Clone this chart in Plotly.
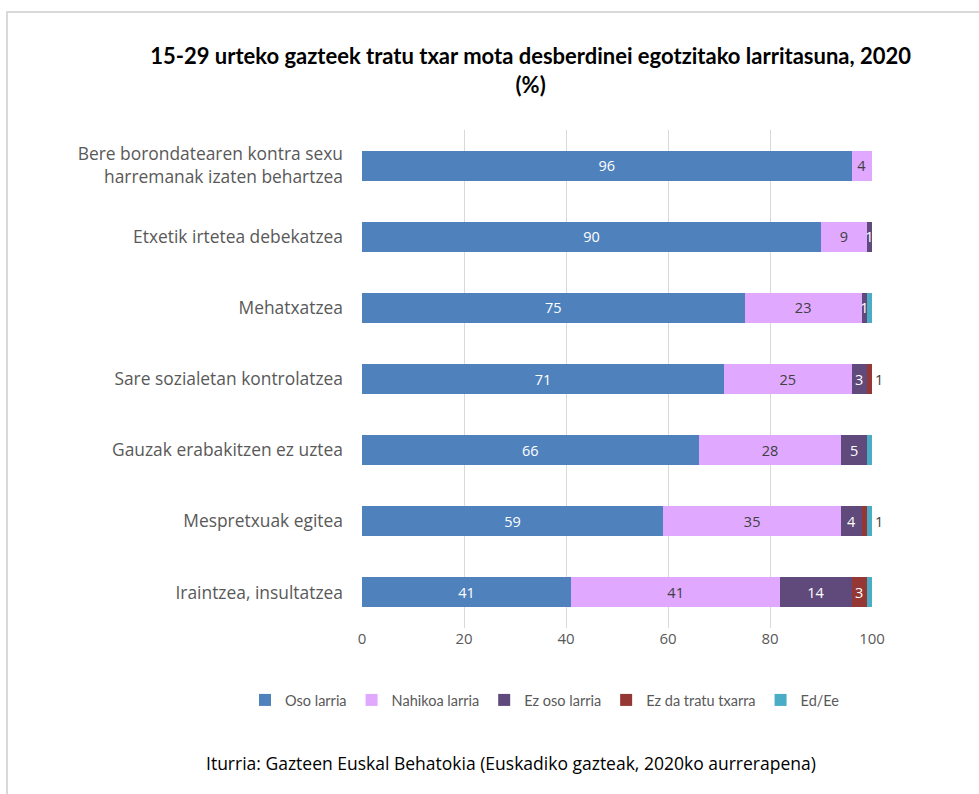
import plotly.graph_objects as go

categories = [
    "Bere borondatearen kontra sexu<br>harremanak izaten behartzea",
    "Etxetik irtetea debekatzea",
    "Mehatxatzea",
    "Sare sozialetan kontrolatzea",
    "Gauzak erabakitzen ez uztea",
    "Mespretxuak egitea",
    "Iraintzea, insultatzea",
]
series_names = ["Oso larria", "Nahikoa larria", "Ez oso larria", "Ez da tratu txarra", "Ed/Ee"]
oso_larria = [96, 90, 75, 71, 66, 59, 41]
nahikoa_larria = [4, 9, 23, 25, 28, 35, 41]
ez_oso_larria = [0, 1, 1, 3, 5, 4, 14]
ez_da_tratu_txarra = [0, 0, 0, 1, 0, 1, 3]
ed_ee = [0, 0, 1, 0, 1, 1, 1]
# which values carry a data label inside the bar
inside_labels = [
    [True] * 7,
    [True] * 7,
    [False, True, True, True, True, True, True],
    [False, False, False, False, False, False, True],
    [False] * 7,
]
# labels shown to the right of the bar: (category index, series index)
outside_labels = [(3, 3), (5, 4)]

values = [oso_larria, nahikoa_larria, ez_oso_larria, ez_da_tratu_txarra, ed_ee]
colors = ["#4F81BD", "#E0A8FF", "#604A7B", "#953735", "#4BACC6"]
text_colors = ["white", "#404040", "white", "white", "white"]

FONT = "Open Sans"
fig = go.Figure()
for s, name in enumerate(series_names):
    txt = [str(v) if inside_labels[s][i] else "" for i, v in enumerate(values[s])]
    fig.add_trace(go.Bar(
        y=categories, x=values[s], name=name, orientation="h",
        marker=dict(color=colors[s], line=dict(width=0)),
        text=txt, textposition="inside", insidetextanchor="middle",
        constraintext="none", textangle=0,
        insidetextfont=dict(color=text_colors[s], size=14.5, family=FONT),
        hoverinfo="x+name",
    ))

for ci, si in outside_labels:
    total = sum(values[k][ci] for k in range(len(values)))
    fig.add_annotation(x=total, y=categories[ci], text=str(values[si][ci]),
                       xanchor="left", xshift=1, showarrow=False,
                       font=dict(size=14.5, color="#404040", family=FONT))

fig.add_annotation(xref="paper", yref="paper", x=0.292, y=-0.271,
                   xanchor="center", yanchor="middle",
                   text="Iturria: Gazteen Euskal Behatokia (Euskadiko gazteak, 2020ko aurrerapena)",
                   showarrow=False, font=dict(size=17.5, color="#000000", family=FONT))

fig.add_shape(type="rect", xref="paper", yref="paper",
              x0=(7 - 362) / 510, x1=2, y0=-1, y1=(628 - 12) / 498,
              line=dict(color="#D9D9D9", width=2), fillcolor="rgba(0,0,0,0)", layer="below")

fig.update_layout(
    width=979, height=794,
    barmode="stack", bargap=0.58,
    plot_bgcolor="white", paper_bgcolor="white",
    margin=dict(l=362, r=107, t=130, b=166),
    title=dict(text="<b>15-29 urteko gazteek tratu txar mota desberdinei egotzitako larritasuna, 2020<br>(%)</b>",
               x=0.542, xanchor="center", y=1 - 64 / 794, yanchor="top", yref="container",
               font=dict(size=22, color="#000000", family="Lato")),
    xaxis=dict(range=[0, 100], dtick=20, showgrid=True, gridcolor="#D9D9D9", gridwidth=1,
               zeroline=False, showline=False, ticks="",
               tickfont=dict(size=15, color="#595959", family=FONT)),
    yaxis=dict(autorange="reversed", showgrid=False, showline=False, ticks="",
               ticklabelstandoff=18,
               tickfont=dict(size=17.4, color="#595959", family=FONT)),
    legend=dict(orientation="h", x=(245 - 362) / 510, xanchor="left",
                y=(628 - 700) / 498, yanchor="middle",
                font=dict(size=14.5, color="#595959", family="Lato"), traceorder="normal",
                itemwidth=30),
    showlegend=True,
)

fig.write_html("out.html", config={"displayModeBar": False},
               post_script="document.body.style.margin='0';document.body.style.overflow='hidden';")
